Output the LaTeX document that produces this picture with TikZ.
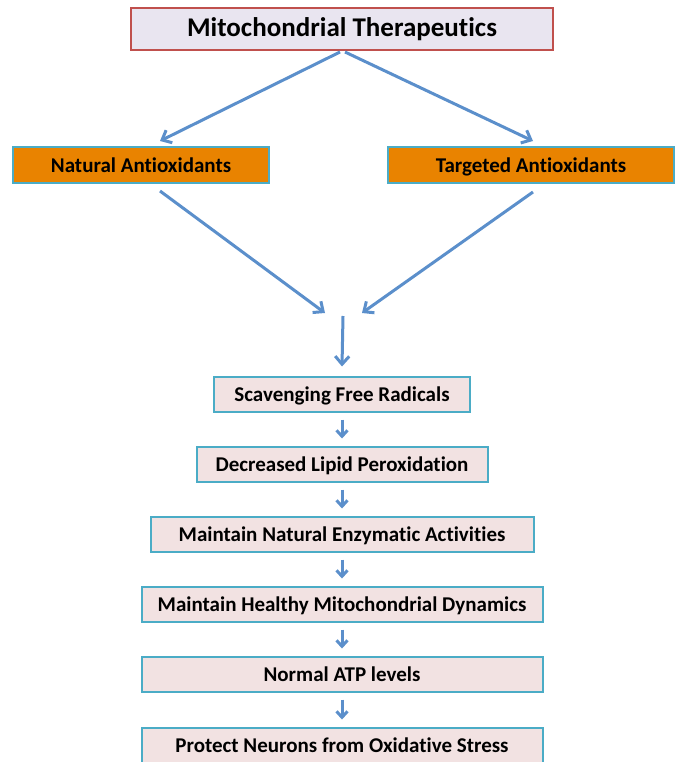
\documentclass[tikz,border=0pt]{standalone}
\usepackage{fontspec}
\setmainfont{Carlito}[Ligatures=NoCommon]
\usetikzlibrary{arrows.meta}

\definecolor{arrowblue}{HTML}{5B8FCB}
\definecolor{boxcyan}{HTML}{4BACC6}
\definecolor{boxpink}{HTML}{F2E2E2}
\definecolor{topfill}{HTML}{E9E5F0}
\definecolor{topred}{HTML}{C0504D}
\definecolor{antiorange}{HTML}{E98300}

\tikzset{
	headbox/.style={draw=topred, fill=topfill, line width=1.5pt, minimum height=42pt, text height=16pt, text depth=0pt, font=\fontsize{27}{32}\selectfont\bfseries},
	antibox/.style={draw=boxcyan, fill=antiorange, line width=2pt, minimum height=35pt, text height=15pt, text depth=0pt, font=\fontsize{21}{24}\selectfont\bfseries},
	stepbox/.style={draw=boxcyan, fill=boxpink, line width=2pt, minimum height=35pt, text height=14pt, text depth=0pt, font=\fontsize{21}{24}\selectfont\bfseries},
	bigarrow/.style={draw=arrowblue, line width=3pt, -{Straight Barb[length=8pt, width=14pt]}},
	smallarrow/.style={draw=arrowblue, line width=3pt, -{Straight Barb[length=6pt, width=11pt]}}
}

\begin{document}
\begin{tikzpicture}[x=1pt, y=-1pt]
	\useasboundingbox (0,0) rectangle (675,762);

	\node [headbox, minimum width=422pt] (thera) at (342,29) {Mitochondrial Therapeutics};

	\node [antibox, minimum width=256pt] (natural) at (141,165) {Natural Antioxidants};
	\node [antibox, minimum width=286pt] (targeted) at (531,165) {Targeted Antioxidants};

	\coordinate (thl) at (340,52);
	\coordinate (thr) at (345,52);
	\coordinate (natin) at (160,141);
	\coordinate (tarin) at (533,141);
	\coordinate (natout) at (160,191);
	\coordinate (tarout) at (533,192);
	\coordinate (meetl) at (325,313);
	\coordinate (meetr) at (362,313);
	\coordinate (downtop) at (343,316);

	\draw [bigarrow] (thl) -- (natin);
	\draw [bigarrow] (thr) -- (tarin);
	\draw [bigarrow] (natout) -- (meetl);
	\draw [bigarrow] (tarout) -- (meetr);

	% chain of effects
	\node [stepbox, minimum width=256pt] (scav) at (342,394) {Scavenging Free Radicals};
	\node [stepbox, minimum width=291pt] (lipid) at (342,464) {Decreased Lipid Peroxidation};
	\node [stepbox, minimum width=383pt] (enzyme) at (342,534) {Maintain Natural Enzymatic Activities};
	\node [stepbox, minimum width=401pt] (dynamics) at (342,604) {Maintain Healthy Mitochondrial Dynamics};
	\node [stepbox, minimum width=401pt] (atp) at (342,674) {Normal ATP levels};
	\node [stepbox, minimum width=401pt] (protect) at (342,745) {Protect Neurons from Oxidative Stress};

	\draw [bigarrow] (downtop) -- ([yshift=9pt]scav.north);

	\foreach \a/\b in {scav/lipid, lipid/enzyme, enzyme/dynamics, dynamics/atp, atp/protect}
		\draw [smallarrow]
			([yshift=-7pt]\a.south) -- ([yshift=7pt]\b.north);
\end{tikzpicture}
\end{document}
